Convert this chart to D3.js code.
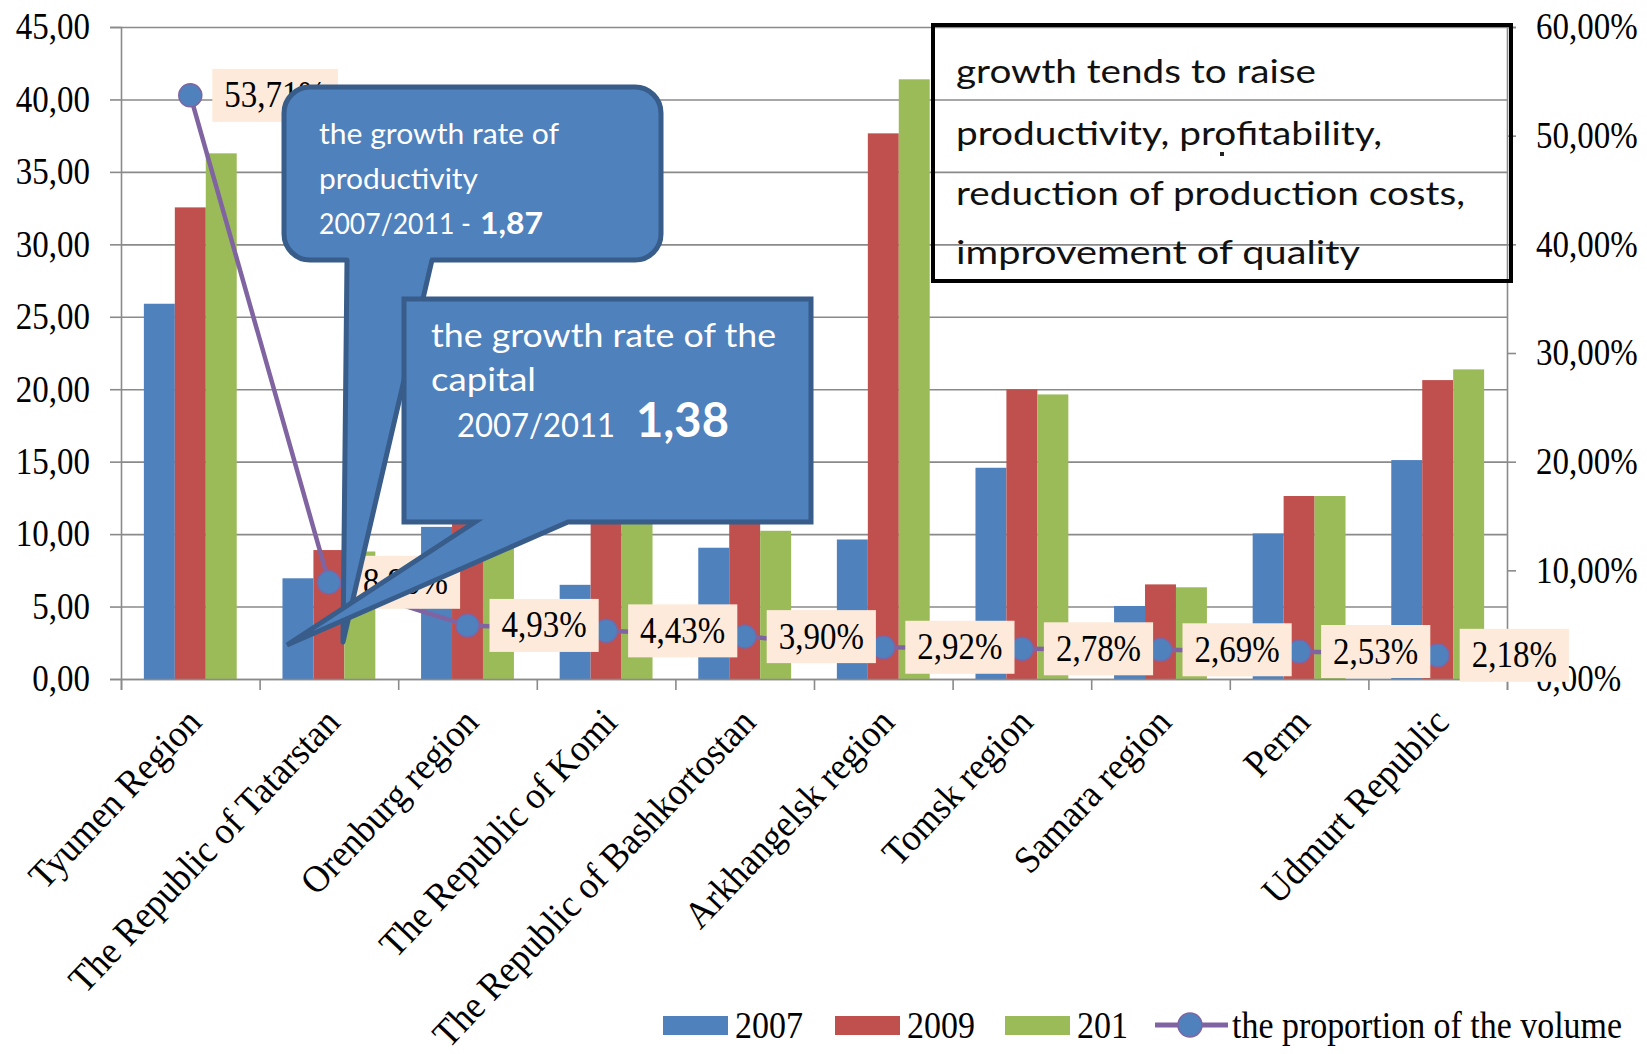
<!DOCTYPE html>
<html><head><meta charset="utf-8">
<script src="https://cdn.jsdelivr.net/npm/d3@7"></script>
<style>body{margin:0;background:#fff} svg{display:block}</style>
</head><body><svg id="c" width="1647" height="1054"></svg>
<script>
// ---- data ----
const categories = ["Tyumen Region","The Republic of Tatarstan","Orenburg region","The Republic of Komi","The Republic of Bashkortostan","Arkhangelsk region","Tomsk region","Samara region","Perm","Udmurt Republic"];
const seriesNames = ["2007","2009","201"];
const values2007 = [25.9, 6.95, 10.5, 6.5, 9.06, 9.63, 14.58, 5.04, 10.05, 15.11];
const values2009 = [32.55, 8.9, 11.5, 13.5, 12.0, 37.66, 19.99, 6.53, 12.63, 20.63];
const values2011 = [36.28, 8.8, 9.4, 12.5, 10.23, 41.39, 19.64, 6.33, 12.63, 21.37];
const proportion = [53.71, 8.90, 4.93, 4.43, 3.90, 2.92, 2.78, 2.69, 2.53, 2.18];
const lineName = "the proportion of the volume";
const leftTicks = [0,5,10,15,20,25,30,35,40,45];
const rightTicks = [0,0.1,0.2,0.3,0.4,0.5,0.6];
const seriesColors = ["#4F81BD","#C0504D","#9BBB59"];
const note1 = ["the growth rate of","productivity","2007/2011 - ","1,87"];
const note2 = ["the growth rate of the","capital","2007/2011","1,38"];
const noteBox = ["growth tends to raise","productivity, profitability,","reduction of production costs,","improvement of quality"];

// ---- layout ----
const plot = {left:121, right:1507, top:27, bottom:679};
const SERIF = "Liberation Serif";
const SANS = "Lato";
const svg = d3.select("#c");
const x0 = d3.scaleBand().domain(categories).range([plot.left, plot.right]);
const bw = x0.bandwidth();
const x1 = d3.scaleBand().domain(seriesNames).range([bw*0.165, bw*0.835]);
const y = d3.scaleLinear().domain([0,45]).range([plot.bottom, plot.top]);
const y2 = d3.scaleLinear().domain([0,0.6]).range([plot.bottom, plot.top]);
const grid = "#8a8a8a";

// gridlines
svg.append("g").attr("transform",`translate(${plot.left},0)`)
  .call(d3.axisLeft(y).tickValues(leftTicks).tickSize(-(plot.right-plot.left)).tickFormat(""))
  .call(g=>g.select(".domain").remove())
  .selectAll("line").attr("stroke",grid).attr("stroke-width",1.6);

// bars
const seriesValues = [values2007, values2009, values2011];
seriesNames.forEach((s,si)=>{
  svg.append("g").selectAll("rect").data(seriesValues[si]).join("rect")
    .attr("x",(d,i)=>x0(categories[i])+x1(s))
    .attr("width",x1.bandwidth())
    .attr("y",d=>y(d))
    .attr("height",d=>y(0)-y(d))
    .attr("fill",seriesColors[si]);
});

// left axis
const fmtNum = d=>d3.format(".2f")(d).replace(".",",");
const fmtPct = d=>d3.format(".2%")(d).replace(".",",");
const axL = svg.append("g").attr("transform",`translate(${plot.left},0)`)
  .call(d3.axisLeft(y).tickValues(leftTicks).tickSize(11).tickPadding(20).tickFormat(fmtNum));
axL.select(".domain").attr("stroke",grid).attr("stroke-width",1.6);
axL.selectAll("line").attr("stroke",grid).attr("stroke-width",1.6);
axL.selectAll("text").attr("font-family",SERIF).attr("font-size",33).attr("fill","#000").attr("transform","scale(1,1.12)");

// right axis
const axR = svg.append("g").attr("transform",`translate(${plot.right},0)`)
  .call(d3.axisRight(y2).tickValues(rightTicks).tickSize(9).tickPadding(20).tickFormat(fmtPct));
axR.select(".domain").attr("stroke",grid).attr("stroke-width",1.6);
axR.selectAll("line").attr("stroke",grid).attr("stroke-width",1.6);
axR.selectAll("text").attr("font-family",SERIF).attr("font-size",33).attr("fill","#000").attr("transform","scale(1,1.12)");

// bottom axis with ticks at band edges
const xEdges = d3.scaleLinear().domain([0,categories.length]).range([plot.left, plot.right]);
const axB = svg.append("g").attr("transform",`translate(0,${plot.bottom})`)
  .call(d3.axisBottom(xEdges).tickValues(d3.range(0,categories.length+1)).tickSize(11).tickFormat(""));
axB.select(".domain").attr("stroke",grid).attr("stroke-width",1.6);
axB.selectAll("line").attr("stroke",grid).attr("stroke-width",1.6);

const axC = svg.append("g").attr("transform",`translate(0,${plot.bottom})`)
  .call(d3.axisBottom(x0).tickSize(0).tickPadding(0));
axC.select(".domain").remove();
axC.selectAll("text").attr("font-family",SERIF).attr("font-size",36).attr("fill","#000")
  .attr("text-anchor","end").attr("y",0).attr("dy",0)
  .attr("transform","translate(13,45) rotate(-46.5) scale(1,1.06)");

// line series
const px = (d,i)=>x0(categories[i])+bw/2;
const py = d=>y2(d/100);
svg.append("path").datum(proportion)
  .attr("d",d3.line().x(px).y(py))
  .attr("fill","none").attr("stroke","#8064A2").attr("stroke-width",4.5);
svg.append("g").selectAll("circle").data(proportion).join("circle")
  .attr("cx",px).attr("cy",py).attr("r",11.5)
  .attr("fill","#4F81BD").attr("stroke","#8064A2").attr("stroke-width",1.5);

// data labels
const lab = svg.append("g").selectAll("g").data(proportion).join("g")
  .attr("transform",(d,i)=>`translate(${px(d,i)},${py(d)})`);
lab.each(function(d){
  const g = d3.select(this);
  const r = g.append("rect").attr("fill","#FDEADA");
  const t = g.append("text").attr("font-family",SERIF).attr("font-size",33).attr("fill","#000")
    .attr("transform","translate(34,12) scale(1,1.12)")
    .text(d3.format(".2f")(d).replace(".",",")+"%");
  const w = t.node().getComputedTextLength();
  r.attr("x",22).attr("y",-26.5).attr("width",w+24).attr("height",53);
});

// right note box
const nb = svg.append("g");
nb.append("rect").attr("x",933).attr("y",25).attr("width",578).attr("height",256)
  .attr("fill","none").attr("stroke","#000").attr("stroke-width",4);
const nbLens = [360,426,509,404];
const nbBase = [83,145,205,264];
noteBox.forEach((s,i)=>{
  nb.append("text").attr("x",956).attr("y",nbBase[i]).attr("font-family",SANS).attr("font-size",33)
    .attr("fill","#111").attr("textLength",nbLens[i]).attr("lengthAdjust","spacingAndGlyphs").text(s);
});
nb.append("rect").attr("x",1220).attr("y",152).attr("width",4).attr("height",4).attr("fill","#222");

// callouts
const cFill = "#4F81BD", cStroke = "#385D8A";
function calloutPath(x0_,y0_,x1_,y1_,r,tb0,tb1,tip){
  const p = d3.path();
  p.moveTo(x0_+r,y0_);
  p.lineTo(x1_-r,y0_); p.arcTo(x1_,y0_,x1_,y0_+r,r);
  p.lineTo(x1_,y1_-r); p.arcTo(x1_,y1_,x1_-r,y1_,r);
  p.lineTo(tb1,y1_); p.lineTo(tip[0],tip[1]); p.lineTo(tb0,y1_);
  p.lineTo(x0_+r,y1_); p.arcTo(x0_,y1_,x0_,y1_-r,r);
  p.lineTo(x0_,y0_+r); p.arcTo(x0_,y0_,x0_+r,y0_,r);
  p.closePath();
  return p.toString();
}
svg.append("path").attr("d",calloutPath(284,87,661,260,26,347,432,[343,642]))
  .attr("fill",cFill).attr("stroke",cStroke).attr("stroke-width",5).attr("stroke-linejoin","round");
const c1 = svg.append("g").attr("fill","#fff").attr("font-family",SANS);
c1.append("text").attr("x",319).attr("y",144).attr("font-size",29).attr("textLength",240).attr("lengthAdjust","spacingAndGlyphs").text(note1[0]);
c1.append("text").attr("x",319).attr("y",189).attr("font-size",29).attr("textLength",159).attr("lengthAdjust","spacingAndGlyphs").text(note1[1]);
c1.append("text").attr("x",319).attr("y",234).attr("font-size",29).attr("textLength",152).attr("lengthAdjust","spacingAndGlyphs").text(note1[2]);
c1.append("text").attr("x",480).attr("y",234).attr("font-size",31).attr("font-weight","bold").attr("textLength",63).attr("lengthAdjust","spacingAndGlyphs").text(note1[3]);

svg.append("path").attr("d",calloutPath(404,299,811,522,0,475,568,[287,645]))
  .attr("fill",cFill).attr("stroke",cStroke).attr("stroke-width",5).attr("stroke-linejoin","miter");
const c2 = svg.append("g").attr("fill","#fff").attr("font-family",SANS);
c2.append("text").attr("x",431).attr("y",347).attr("font-size",33).attr("textLength",345).attr("lengthAdjust","spacingAndGlyphs").text(note2[0]);
c2.append("text").attr("x",431).attr("y",391).attr("font-size",33).attr("textLength",105).attr("lengthAdjust","spacingAndGlyphs").text(note2[1]);
c2.append("text").attr("x",457).attr("y",437).attr("font-size",33).attr("textLength",158).attr("lengthAdjust","spacingAndGlyphs").text(note2[2]);
c2.append("text").attr("x",636).attr("y",437).attr("font-size",48).attr("font-weight","bold").attr("textLength",93).attr("lengthAdjust","spacingAndGlyphs").text(note2[3]);

// legend
const leg = svg.append("g");
const legX = [663,835,1005];
seriesNames.forEach((s,i)=>{
  leg.append("rect").attr("x",legX[i]).attr("y",1016).attr("width",65).attr("height",19).attr("fill",seriesColors[i]);
  leg.append("text").attr("transform",`translate(${legX[i]+72},1038) scale(1,1.12)`)
    .attr("font-family",SERIF).attr("font-size",34).attr("fill","#000").text(s);
});
leg.append("line").attr("x1",1155).attr("x2",1228).attr("y1",1025).attr("y2",1025).attr("stroke","#8064A2").attr("stroke-width",5);
leg.append("circle").attr("cx",1190).attr("cy",1025).attr("r",12).attr("fill","#4F81BD").attr("stroke","#8064A2").attr("stroke-width",1.5);
leg.append("text").attr("transform","translate(1232,1038) scale(1,1.12)")
  .attr("font-family",SERIF).attr("font-size",33).attr("fill","#000")
  .attr("textLength",390).attr("lengthAdjust","spacingAndGlyphs").text(lineName);
</script></body></html>
